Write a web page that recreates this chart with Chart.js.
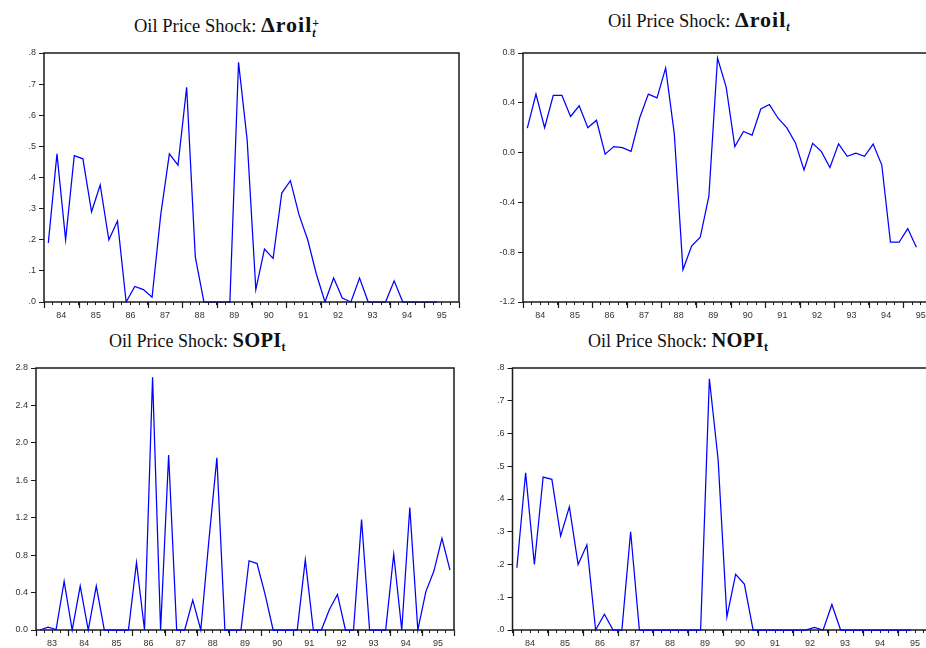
<!DOCTYPE html>
<html>
<head>
<meta charset="utf-8">
<script src="https://cdn.jsdelivr.net/npm/chart.js@4.4.1/dist/chart.umd.min.js"></script>
<style>
  html, body { margin:0; padding:0; background:#fff; }
  body { width:926px; height:648px; overflow:hidden; position:relative; }
  canvas { position:absolute; }
  .ttl { position:absolute; font-family:"Liberation Serif","Times New Roman",serif; font-size:18.5px; color:#111; white-space:nowrap; line-height:24px; }
  .ttl.b { font-size:18px; }
  .ttl .m { font-weight:bold; font-size:22px; letter-spacing:1px; }
  .ttl.b .m { font-size:20.5px; letter-spacing:0.3px; }
  .ttl .ss { display:inline-block; font-size:12px; line-height:10px; vertical-align:-5px; margin-left:0px; text-align:left; }
  .ttl .ss span { display:block; }
  .ttl .it { font-style:italic; }
  .ttl .sb { font-size:12px; vertical-align:-4px; letter-spacing:0; }
</style>
</head>
<body>
<div class="ttl" style="left:134px;top:13px">Oil Price Shock: <span class="m">Δroil<span class="ss"><span>+</span><span class="it">t</span></span></span></div>
<div class="ttl" style="left:608px;top:8px">Oil Price Shock: <span class="m">Δroil<span class="sb it">t</span></span></div>
<div class="ttl b" style="left:109px;top:328px">Oil Price Shock: <span class="m">SOPI<span class="sb">t</span></span></div>
<div class="ttl b" style="left:588px;top:328px">Oil Price Shock: <span class="m">NOPI<span class="sb">t</span></span></div>

<canvas id="c1" width="470" height="290" style="left:0px;top:43px"></canvas>
<canvas id="c2" width="480" height="290" style="left:470px;top:43px"></canvas>
<canvas id="c3" width="470" height="300" style="left:0px;top:358px"></canvas>
<canvas id="c4" width="480" height="300" style="left:470px;top:358px"></canvas>

<script>
// ── Datos trimestrales ───────────────────────────────────────────────────────
const YEARS_84 = ['84','85','86','87','88','89','90','91','92','93','94','95'];
const YEARS_83 = ['83','84','85','86','87','88','89','90','91','92','93','94','95'];

// Δroil+  1984Q1 – 1995Q2
const ROIL_POS = [0.19, 0.476, 0.20, 0.47, 0.46, 0.29, 0.376, 0.20, 0.26, 0.0,
                  0.05, 0.04, 0.015, 0.28, 0.476, 0.44, 0.69, 0.145, 0, 0,
                  0, 0, 0.77, 0.52, 0.04, 0.17, 0.14, 0.35, 0.39, 0.28,
                  0.20, 0.09, 0, 0.077, 0.013, 0, 0.077, 0, 0, 0,
                  0.068, 0, 0, 0, 0, 0];

// Δroil  1984Q1 – 1995Q2
const ROIL = [0.196, 0.47, 0.20, 0.46, 0.46, 0.29, 0.376, 0.20, 0.26, -0.013,
              0.048, 0.04, 0.01, 0.28, 0.47, 0.44, 0.68, 0.15, -0.94, -0.75,
              -0.68, -0.35, 0.76, 0.526, 0.048, 0.17, 0.14, 0.35, 0.386, 0.276,
              0.20, 0.08, -0.14, 0.075, 0.01, -0.12, 0.07, -0.03, -0.005, -0.03,
              0.068, -0.10, -0.72, -0.72, -0.61, -0.76];

// SOPI  1983Q1 – 1995Q4
const SOPI = [0, 0.03, 0.005, 0.52, 0, 0.47, 0, 0.47, 0, 0,
              0, 0, 0.72, 0, 2.70, 0, 1.87, 0, 0, 0.32,
              0, 0.95, 1.84, 0, 0, 0, 0.74, 0.71, 0.38, 0,
              0, 0, 0, 0.75, 0, 0, 0.22, 0.38, 0, 0,
              1.18, 0, 0, 0, 0.81, 0, 1.31, 0, 0.41, 0.63,
              0.98, 0.64];

// NOPI  1984Q1 – 1995Q2
const NOPI = [0.19, 0.48, 0.20, 0.467, 0.46, 0.287, 0.376, 0.20, 0.26, 0,
              0.048, 0, 0, 0.30, 0, 0, 0, 0, 0, 0,
              0, 0, 0.767, 0.52, 0.04, 0.17, 0.14, 0, 0, 0,
              0, 0, 0, 0, 0.008, 0, 0.078, 0, 0, 0,
              0, 0, 0, 0, 0, 0];

const blue = '#0000ff';
const ink  = '#1a1a1a';
const tickFont = { family: 'Liberation Sans, Arial, sans-serif', size: 9 };

const fmtPunto = v => v.toFixed(1).replace(/^(-?)0\./, '$1.');   // ".8"
const fmtCero  = v => v.toFixed(1);                               // "0.8"

// ── Marco de la gráfica y marcas de año ───────────────────────────────────────
function dibujarMarco(chart) {
    const {ctx, chartArea:a, scales} = chart;
    const x = scales.x;
    ctx.save();
    ctx.strokeStyle = ink;
    ctx.lineWidth = 1.5;
    ctx.strokeRect(a.left, a.top, a.right - a.left, a.bottom - a.top);
    ctx.lineWidth = 1.2;
    ctx.beginPath();
    for (let y = Math.ceil(x.min); y <= x.max; y++) {
        const px = Math.round(x.getPixelForValue(y)) + 0.5;
        ctx.moveTo(px, a.bottom);
        ctx.lineTo(px, a.bottom + 6);
    }
    ctx.stroke();
    ctx.restore();
}
const marco = {
    id: 'marco',
    beforeDatasetsDraw(chart, args, opts) { if (!opts.encima) dibujarMarco(chart); },
    afterDatasetsDraw(chart, args, opts)  { if (opts.encima)  dibujarMarco(chart); }
};

// ── Constructor de panel ──────────────────────────────────────────────────────
function crearPanel(canvasId, valores, anioIni, etiquetas, y, caja, encima) {
    const anioFin = anioIni + etiquetas.length;
    const puntos = valores.map((v, i) => ({ x: anioIni + (i + 0.5) / 4, y: v }));

    new Chart(document.getElementById(canvasId), {
        type: 'line',
        data: { datasets: [{ data: puntos, borderColor: blue, borderWidth: 1.25, pointRadius: 0, tension: 0, fill: false, clip: encima ? 1 : false }] },
        options: {
            responsive: false, animation: false,
            layout: { padding: { left: 0, top: caja.top, right: caja.right, bottom: 0 } },
            plugins: { legend: { display: false }, tooltip: { enabled: false }, marco: { encima: encima } },
            scales: {
                x: {
                    type: 'linear', min: anioIni, max: anioFin,
                    afterBuildTicks: s => {
                        s.ticks = [];
                        for (let v = anioIni; v <= anioFin; v += 0.25) s.ticks.push({ value: v });
                    },
                    afterFit: s => { s.height = caja.xH; },
                    ticks: {
                        autoSkip: false, maxRotation: 0, minRotation: 0, padding: 5,
                        font: tickFont, color: '#333',
                        callback: v => (v - Math.floor(v) === 0.5) ? etiquetas[Math.floor(v) - anioIni] : ''
                    },
                    grid: { drawOnChartArea: false, drawTicks: true, tickLength: 3, tickColor: ink, tickWidth: 1 },
                    border: { display: false }
                },
                y: {
                    min: y.min, max: y.max,
                    afterFit: s => { s.width = caja.yW; },
                    ticks: { stepSize: y.step, padding: 3, font: tickFont, color: '#333', callback: y.fmt },
                    grid: { drawOnChartArea: false, drawTicks: true, tickLength: 5, tickColor: ink, tickWidth: 1 },
                    border: { display: false }
                }
            }
        },
        plugins: [marco]
    });
}

crearPanel('c1', ROIL_POS, 1984, YEARS_84, { min: 0,    max: 0.8, step: 0.1, fmt: fmtPunto }, { top: 10, right: 11,   yW: 44,   xH: 31 }, true);
crearPanel('c2', ROIL,     1984, YEARS_84, { min: -1.2, max: 0.8, step: 0.4, fmt: fmtCero  }, { top: 10, right: 12,   yW: 53,   xH: 31 }, true);
crearPanel('c3', SOPI,     1983, YEARS_83, { min: 0,    max: 2.8, step: 0.4, fmt: fmtCero  }, { top: 10, right: 16,   yW: 36,   xH: 28 }, false);
crearPanel('c4', NOPI,     1984, YEARS_84, { min: 0,    max: 0.8, step: 0.1, fmt: fmtPunto }, { top: 10, right: 17.5, yW: 42.5, xH: 28 }, false);
</script>
</body>
</html>
